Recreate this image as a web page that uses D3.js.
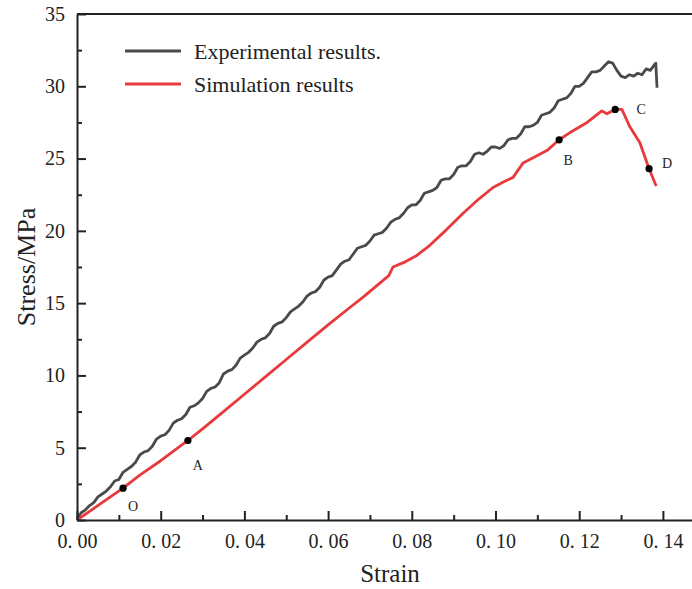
<!DOCTYPE html>
<html>
<head>
<meta charset="utf-8">
<script src="https://cdn.jsdelivr.net/npm/d3@7"></script>
<style>
  body { margin: 0; background: #fff; }
  text { font-family: "Liberation Serif", "DejaVu Serif", serif; fill: #222; }
</style>
</head>
<body>
<div id="chart"></div>
<script>
// experimental curve (strain, stress)
var expStrain = [0, 0.001, 0.002, 0.003, 0.004, 0.005, 0.006, 0.007, 0.008, 0.009,
  0.010, 0.011, 0.012, 0.013, 0.014, 0.015, 0.016, 0.017, 0.018, 0.019,
  0.020, 0.021, 0.022, 0.023, 0.024, 0.025, 0.026, 0.027, 0.028, 0.029,
  0.030, 0.031, 0.032, 0.033, 0.034, 0.035, 0.036, 0.037, 0.038, 0.039,
  0.040, 0.041, 0.042, 0.043, 0.044, 0.045, 0.046, 0.047, 0.048, 0.049,
  0.050, 0.051, 0.052, 0.053, 0.054, 0.055, 0.056, 0.057, 0.058, 0.059,
  0.060, 0.061, 0.062, 0.063, 0.064, 0.065, 0.066, 0.067, 0.068, 0.069,
  0.070, 0.071, 0.072, 0.073, 0.074, 0.075, 0.076, 0.077, 0.078, 0.079,
  0.080, 0.081, 0.082, 0.083, 0.084, 0.085, 0.086, 0.087, 0.088, 0.089,
  0.090, 0.091, 0.092, 0.093, 0.094, 0.095, 0.096, 0.097, 0.098, 0.099,
  0.100, 0.101, 0.102, 0.103, 0.104, 0.105, 0.106, 0.107, 0.108, 0.109,
  0.110, 0.111, 0.112, 0.113, 0.114, 0.115, 0.116, 0.117, 0.118, 0.119,
  0.120, 0.121, 0.122, 0.123, 0.124, 0.125, 0.126, 0.127, 0.128, 0.129,
  0.130, 0.131, 0.132, 0.133, 0.134, 0.135, 0.136, 0.137, 0.138, 0.1383, 0.1386];
var expStress = [0.1, 0.5, 0.7, 1.0, 1.2, 1.6, 1.8, 2.0, 2.3, 2.7,
  2.8, 3.3, 3.5, 3.7, 4.0, 4.5, 4.7, 4.8, 5.1, 5.6,
  5.8, 5.9, 6.2, 6.7, 6.9, 7.0, 7.3, 7.8, 7.9, 8.1,
  8.4, 8.9, 9.1, 9.2, 9.5, 10.1, 10.3, 10.4, 10.7, 11.2,
  11.4, 11.6, 11.9, 12.3, 12.5, 12.6, 12.9, 13.4, 13.6, 13.7,
  14.0, 14.4, 14.6, 14.8, 15.1, 15.5, 15.7, 15.8, 16.1, 16.6,
  16.8, 16.9, 17.3, 17.7, 17.9, 18.0, 18.4, 18.8, 18.9, 19.0,
  19.3, 19.7, 19.8, 19.9, 20.2, 20.6, 20.8, 20.9, 21.2, 21.6,
  21.8, 21.8, 22.1, 22.6, 22.7, 22.8, 23.0, 23.5, 23.6, 23.6,
  23.9, 24.4, 24.5, 24.5, 24.8, 25.3, 25.4, 25.3, 25.5, 25.8,
  25.8, 25.7, 25.9, 26.3, 26.4, 26.4, 26.7, 27.2, 27.2, 27.3,
  27.5, 28.0, 28.1, 28.2, 28.5, 29.0, 29.1, 29.2, 29.5, 30.0,
  30.0, 30.2, 30.6, 31.0, 31.0, 31.1, 31.4, 31.7, 31.6, 31.1,
  30.7, 30.6, 30.8, 30.7, 30.9, 30.8, 31.2, 31.1, 31.5, 31.6, 29.9];

// simulation curve
var simStrain = [0, 0.003, 0.006, 0.011, 0.015, 0.020, 0.0265, 0.030, 0.035, 0.040,
  0.045, 0.050, 0.055, 0.060, 0.0652, 0.0683, 0.072, 0.0745, 0.0755, 0.078,
  0.0812, 0.0843, 0.088, 0.0922, 0.096, 0.0994, 0.102, 0.1042, 0.1066, 0.1099,
  0.1125, 0.1152, 0.1178, 0.1219, 0.1254, 0.1266, 0.1286, 0.1302, 0.1321, 0.1345,
  0.1367, 0.1384];
var simStress = [0, 0.6, 1.2, 2.2, 3.1, 4.1, 5.5, 6.3, 7.5, 8.7,
  9.9, 11.1, 12.3, 13.5, 14.7, 15.4, 16.3, 16.9, 17.5, 17.8,
  18.3, 19.0, 20.0, 21.2, 22.2, 23.0, 23.4, 23.7, 24.7, 25.2,
  25.6, 26.3, 26.8, 27.5, 28.3, 28.1, 28.4, 28.4, 27.2, 26.1,
  24.3, 23.1];

// marked states on the simulation curve
var markLabels = ["O", "A", "B", "C", "D"];
var markStrain = [0.011, 0.0265, 0.1152, 0.1286, 0.1367];
var markStress = [2.2, 5.5, 26.3, 28.4, 24.3];
var markOffsets = [[10, 18], [10, 25], [9, 21], [26, 0], [18, -5]];

var seriesNames = ["Experimental results.", "Simulation results"];
var seriesColors = ["#4a4a4a", "#e8393c"];

var xTicks = [0, 0.02, 0.04, 0.06, 0.08, 0.10, 0.12, 0.14];
var yTicks = [0, 5, 10, 15, 20, 25, 30, 35];

var width = 692, height = 589;
var margin = {left: 77, top: 14, bottom: 69};

var x = d3.scaleLinear().domain([0, 0.15]).range([margin.left, margin.left + 0.15 * 4185]);
var y = d3.scaleLinear().domain([0, 35]).range([height - margin.bottom, margin.top]);

var svg = d3.select("#chart").append("svg")
    .attr("width", width).attr("height", height);

var line = d3.line().x(function(d) { return x(d[0]); }).y(function(d) { return y(d[1]); });

var expData = expStrain.map(function(s, i) { return [s, expStress[i]]; });
var simData = simStrain.map(function(s, i) { return [s, simStress[i]]; });

svg.append("path").datum(expData).attr("d", line)
    .attr("fill", "none").attr("stroke", seriesColors[0]).attr("stroke-width", 2.8)
    .attr("stroke-linejoin", "round");
svg.append("path").datum(simData).attr("d", line)
    .attr("fill", "none").attr("stroke", seriesColors[1]).attr("stroke-width", 2.8)
    .attr("stroke-linejoin", "round");

// axes, ticks pointing inward
var xMinor = d3.range(0.01, 0.15, 0.02);
var yMinor = d3.range(2.5, 35, 5);

svg.append("g").attr("transform", "translate(0," + y(0) + ")")
    .call(d3.axisBottom(x).tickValues(xTicks).tickSizeInner(-9).tickSizeOuter(0).tickPadding(14)
      .tickFormat(function(d) { return d3.format(".2f")(d).replace(".", ". "); }));
svg.append("g").attr("transform", "translate(0," + y(0) + ")")
    .call(d3.axisBottom(x).tickValues(xMinor).tickSize(-5).tickFormat(""))
    .select(".domain").remove();

svg.append("g").attr("transform", "translate(" + x(0) + ",0)")
    .call(d3.axisLeft(y).tickValues(yTicks).tickSizeInner(-9).tickSizeOuter(0).tickPadding(12));
svg.append("g").attr("transform", "translate(" + x(0) + ",0)")
    .call(d3.axisLeft(y).tickValues(yMinor).tickSize(-5).tickFormat(""))
    .select(".domain").remove();

svg.selectAll(".domain, .tick line").attr("stroke", "#222").attr("stroke-width", 2);
svg.selectAll(".tick text").attr("font-size", 20).attr("fill", "#333")
    .style("font-family", "'Liberation Serif', serif");

// top frame line
svg.append("line")
    .attr("x1", x(0)).attr("x2", x(0.15)).attr("y1", y(35)).attr("y2", y(35))
    .attr("stroke", "#222").attr("stroke-width", 2);

// axis titles
svg.append("text").attr("x", 390).attr("y", 582)
    .attr("text-anchor", "middle").attr("font-size", 25).text("Strain");
svg.append("text").attr("transform", "translate(35," + 267 + ") rotate(-90)")
    .attr("text-anchor", "middle").attr("font-size", 26).text("Stress/MPa");

// marked points
var marks = svg.append("g");
markLabels.forEach(function(l, i) {
  var cx = x(markStrain[i]), cy = y(markStress[i]);
  marks.append("circle").attr("cx", cx).attr("cy", cy).attr("r", 3.6).attr("fill", "#000");
  marks.append("text").attr("x", cx + markOffsets[i][0]).attr("y", cy + markOffsets[i][1])
      .attr("text-anchor", "middle").attr("dominant-baseline", "central")
      .attr("font-size", 14).text(l);
});

// legend
var legend = svg.append("g");
seriesNames.forEach(function(n, i) {
  var ly = 51 + i * 33;
  legend.append("line").attr("x1", 125).attr("x2", 181).attr("y1", ly).attr("y2", ly)
      .attr("stroke", seriesColors[i]).attr("stroke-width", 3);
  legend.append("text").attr("x", 194).attr("y", ly).attr("dominant-baseline", "central")
      .attr("font-size", 22).text(n);
});
</script>
</body>
</html>
